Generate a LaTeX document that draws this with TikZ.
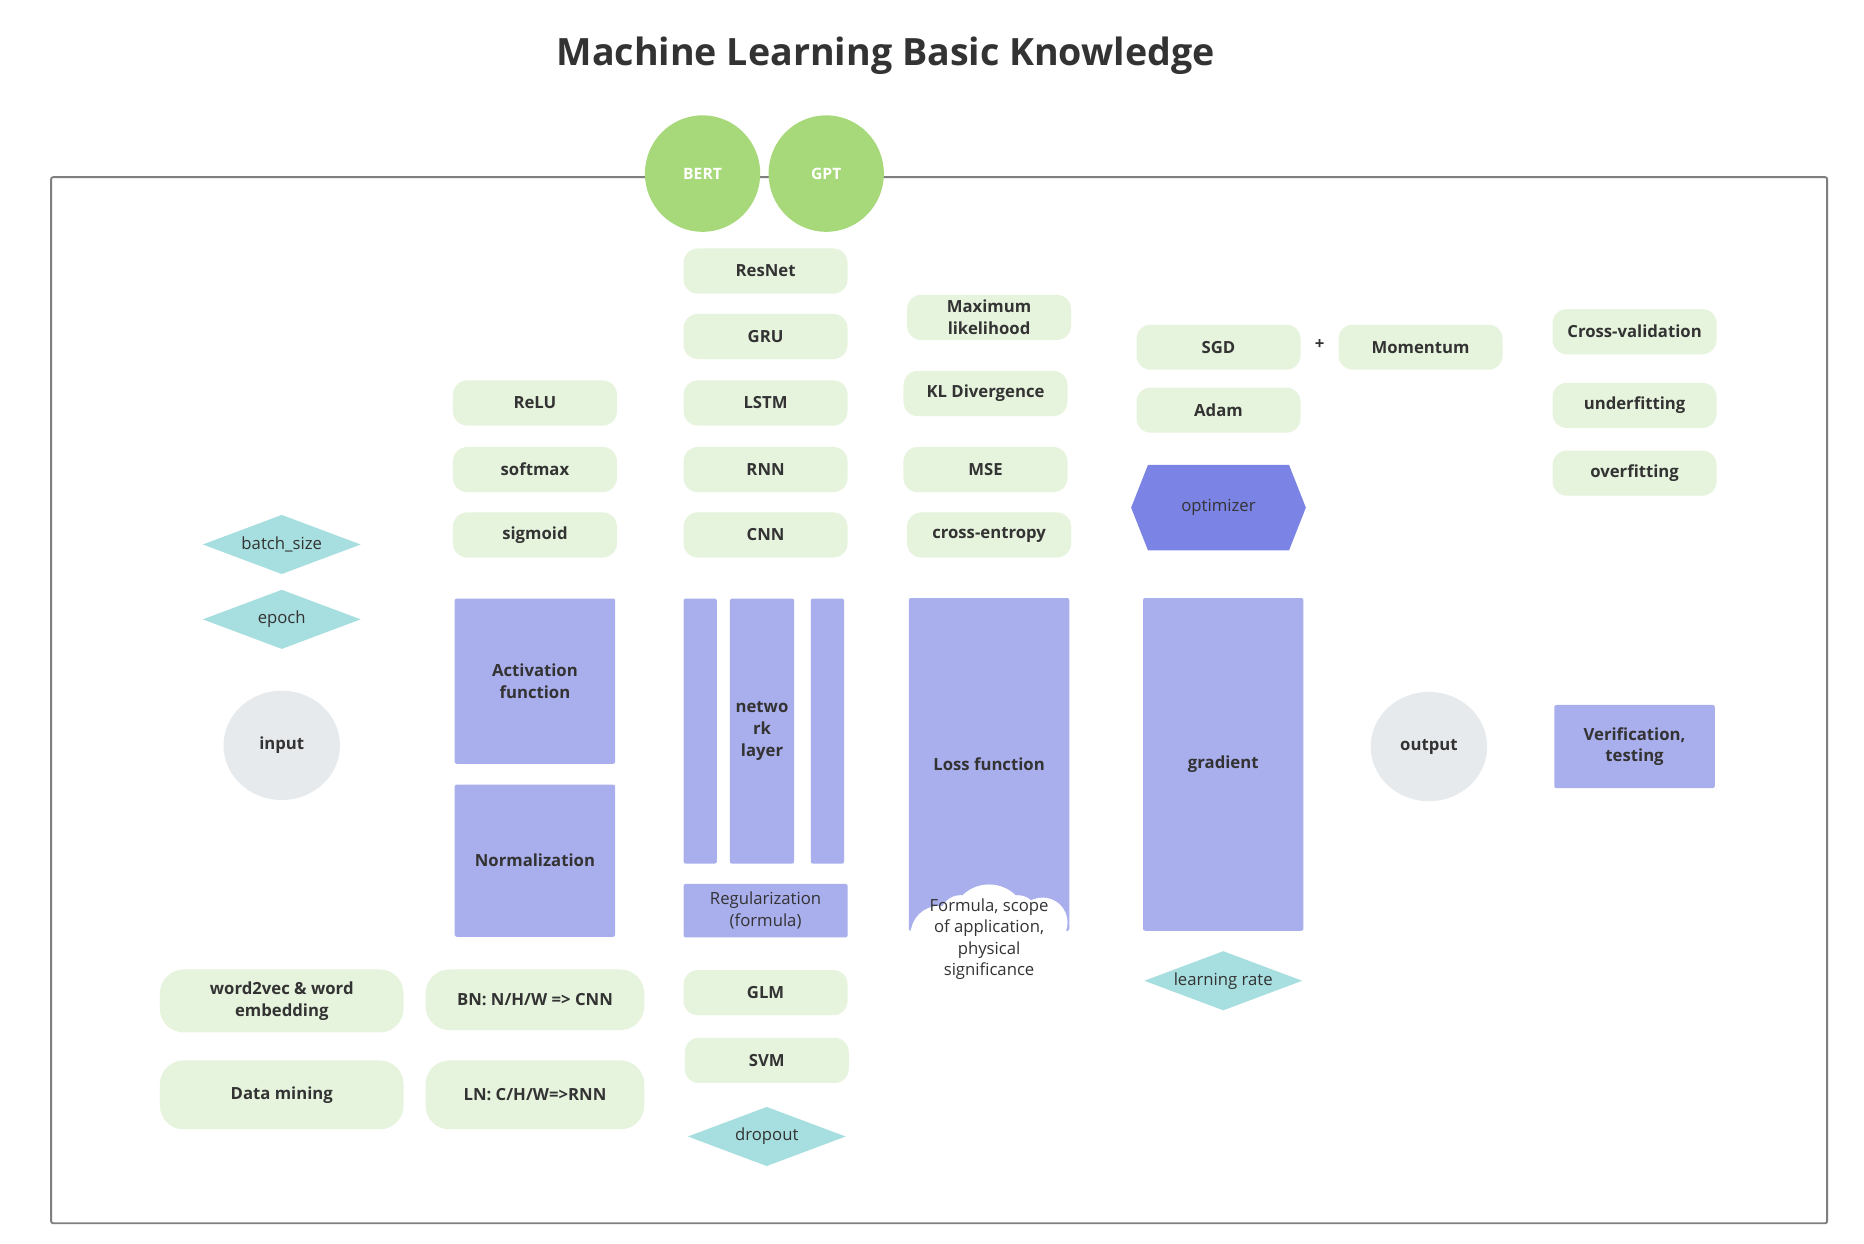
\documentclass[tikz,border=0pt]{standalone}
\usepackage{fontspec}
\setmainfont{Open Sans}
\usetikzlibrary{shapes.geometric,shapes.symbols}

\definecolor{ink}{HTML}{333333}
\definecolor{leaf}{HTML}{E7F4DD}
\definecolor{sprout}{HTML}{A7D97A}
\definecolor{lilac}{HTML}{A9AEEC}
\definecolor{indigo}{HTML}{7B84E4}
\definecolor{aqua}{HTML}{A7DEDF}
\definecolor{mist}{HTML}{E7EAED}
\definecolor{rim}{HTML}{7F7F7F}

\tikzset{
  txt/.style={text=ink,font=\fontsize{8}{10.3}\selectfont\bfseries,align=center,inner sep=0pt},
  plain/.style={font=\fontsize{8}{10.3}\selectfont},
  pill/.style={txt,fill=leaf,rounded corners=0.24cm,minimum width=2.76cm,minimum height=0.76cm},
  block/.style={txt,fill=lilac,rounded corners=1pt},
  gem/.style={txt,plain,diamond,fill=aqua,aspect=2.66,minimum width=2.66cm,minimum height=1cm},
  blob/.style={txt,ellipse,fill=mist,minimum width=1.96cm,minimum height=1.84cm},
  ball/.style={txt,ellipse,fill=sprout,text=white,font=\fontsize{7.5}{9}\selectfont\bfseries,minimum width=1.94cm,minimum height=1.96cm},
}

\begin{document}
\begin{tikzpicture}[x=0.02cm,y=-0.02cm]
\fill[white] (0,0) rectangle (1568,1046);
\useasboundingbox (0,0) rectangle (1568,1046);

\node (title) [txt,font=\fontsize{18}{20}\selectfont\bfseries] at (745,47) {Machine Learning Basic Knowledge};
\draw[rim,line width=0.9pt,rounded corners=1pt] (43,149) rectangle (1537,1029);
\node (bert) [ball] at (591,146) {BERT};
\node (gpt) [ball] at (695,146) {GPT};

\node (batch) [gem] at (237,458) {batch\_size};
\node (epoch) [gem] at (237,521) {epoch};
\node (input) [blob] at (237,627) {input};
\node (wordvec) [pill,minimum width=4.1cm,minimum height=1.06cm,rounded corners=0.4cm] at (237,842) {word2vec \& word\\embedding};
\node (mining) [pill,minimum width=4.1cm,minimum height=1.16cm,rounded corners=0.4cm] at (237,921) {Data mining};

\node (relu) [pill] at (450,339) {ReLU};
\node (softmax) [pill] at (450,395) {softmax};
\node (sigmoid) [pill] at (450,450) {sigmoid};
\node (act) [block,minimum width=2.7cm,minimum height=2.78cm] at (450,573) {Activation\\function};
\node (norm) [block,minimum width=2.7cm,minimum height=2.56cm] at (450,724) {Normalization};
\node (bn) [pill,minimum width=3.68cm,minimum height=1.02cm,rounded corners=0.4cm] at (450,841) {BN: N/H/W => CNN};
\node (ln) [pill,minimum width=3.68cm,minimum height=1.16cm,rounded corners=0.4cm] at (450,921) {LN: C/H/W=>RNN};

\node (resnet) [pill] at (644,228) {ResNet};
\node (gru) [pill] at (644,283) {GRU};
\node (lstm) [pill] at (644,339) {LSTM};
\node (rnn) [pill] at (644,395) {RNN};
\node (cnn) [pill] at (644,450) {CNN};
\node (layerl) [block,minimum width=0.56cm,minimum height=4.46cm] at (589,615) {};
\node (layerm) [block,minimum width=1.08cm,minimum height=4.46cm,font=\fontsize{8}{10.6}\selectfont\bfseries] at (641,615) {netwo\\rk\\layer};
\node (layerr) [block,minimum width=0.56cm,minimum height=4.46cm] at (696,615) {};
\node (reg) [block,plain,minimum width=2.76cm,minimum height=0.9cm] at (644,766) {Regularization\\(formula)};
\node (glm) [pill] at (644,835) {GLM};
\node (svm) [pill] at (645,892) {SVM};
\node (dropout) [gem] at (645,956) {dropout};

\node (maxlik) [pill] at (832,267) {Maximum\\likelihood};
\node (kl) [pill] at (829,331) {KL Divergence};
\node (mse) [pill] at (829,395) {MSE};
\node (xent) [pill] at (832,450) {cross-entropy};
\node (loss) [block,minimum width=2.7cm,minimum height=5.6cm] at (832,643) {Loss function};
\fill[white] (790,786) circle (24) (808,770) circle (17) (832,776) circle (32) (856,770) circle (17) (877,776) circle (21) (770,790) rectangle (896,830);
\node (formula) [txt,plain] at (832,790) {Formula, scope\\of application,\\physical\\significance};

\node (sgd) [pill] at (1025,292) {SGD};
\node (plus) [txt] at (1110,290) {+};
\node (momentum) [pill] at (1195,292) {Momentum};
\node (adam) [pill] at (1025,345) {Adam};
\node (optim) [txt,plain,signal,signal to=east and west,signal pointer angle=137,fill=indigo,minimum width=2.94cm,minimum height=1.44cm] at (1025,427) {optimizer};
\node (grad) [block,minimum width=2.7cm,minimum height=5.6cm] at (1029,643) {gradient};
\node (lrate) [gem] at (1029,825) {learning rate};

\node (output) [blob] at (1202,628) {output};
\node (crossval) [pill] at (1375,279) {Cross-validation};
\node (underfit) [pill] at (1375,341) {underfitting};
\node (overfit) [pill] at (1375,398) {overfitting};
\node (verify) [block,minimum width=2.7cm,minimum height=1.4cm] at (1375,628) {Verification,\\testing};
\end{tikzpicture}
\end{document}
